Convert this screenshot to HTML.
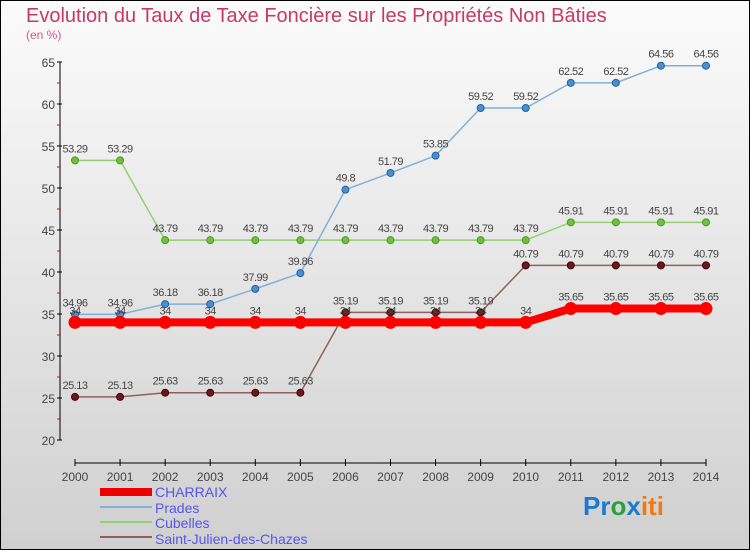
<!DOCTYPE html>
<html><head><meta charset="utf-8"><style>
body{margin:0;width:750px;height:550px;overflow:hidden;font-family:"Liberation Sans",sans-serif}
</style></head><body>
<svg width="750" height="550" xmlns="http://www.w3.org/2000/svg">
<defs><linearGradient id="bg" x1="0" y1="0" x2="0" y2="1"><stop offset="0" stop-color="#fbfbfb"/><stop offset="1" stop-color="#d0d0d0"/></linearGradient></defs>
<rect x="0.5" y="0.5" width="749" height="549" fill="url(#bg)" stroke="#000"/>
<text x="26" y="22" font-size="20" fill="#c8386a">Evolution du Taux de Taxe Foncière sur les Propriétés Non Bâties</text>
<text x="26" y="39" font-size="12" fill="#d0588a">(en %)</text>
<g id="axes"></g>
<g id="series"></g>
<g>
<rect x="100" y="488" width="52" height="8" fill="#e00"/>
<text x="155" y="497" font-size="14" fill="#5555ee">CHARRAIX</text>
<line x1="100" y1="507" x2="152" y2="507" stroke="#80b0d8" stroke-width="2"/>
<text x="155" y="513" font-size="14" fill="#5555ee">Prades</text>
<line x1="100" y1="522" x2="152" y2="522" stroke="#90d070" stroke-width="2"/>
<text x="155" y="528" font-size="14" fill="#5555ee">Cubelles</text>
<line x1="100" y1="537" x2="152" y2="537" stroke="#906060" stroke-width="2"/>
<text x="155" y="544" font-size="14" fill="#5555ee">Saint-Julien-des-Chazes</text>
</g>
<text x="583" y="515" font-size="26" font-weight="bold"><tspan fill="#1a7ad0">Pr</tspan><tspan fill="#2aa040">o</tspan><tspan fill="#1a7ad0">x</tspan><tspan fill="#f07a10">iti</tspan></text>
</svg>
<script>
const years=[2000,2001,2002,2003,2004,2005,2006,2007,2008,2009,2010,2011,2012,2013,2014];
const yTicks=[20,25,30,35,40,45,50,55,60,65];
const charraix=[34,34,34,34,34,34,34,34,34,34,34,35.65,35.65,35.65,35.65];
const prades=[34.96,34.96,36.18,36.18,37.99,39.86,49.8,51.79,53.85,59.52,59.52,62.52,62.52,64.56,64.56];
const cubelles=[53.29,53.29,43.79,43.79,43.79,43.79,43.79,43.79,43.79,43.79,43.79,45.91,45.91,45.91,45.91];
const stjulien=[25.13,25.13,25.63,25.63,25.63,25.63,35.19,35.19,35.19,35.19,40.79,40.79,40.79,40.79,40.79];
const NS="http://www.w3.org/2000/svg";
const X=i=>75+i*(706-75)/(years.length-1);
const Y=v=>440-(v-20)*(440-62)/45;
function mk(p,t,a){const e=document.createElementNS(NS,t);for(const k in a)e.setAttribute(k,a[k]);p.appendChild(e);return e;}
const ax=document.getElementById('axes');
let yl=mk(ax,'line',{x1:60,y1:62,x2:60,y2:440,stroke:'#000'});


yTicks.forEach(v=>{
 mk(ax,'line',{x1:57,y1:Y(v),x2:62,y2:Y(v),stroke:'#000'});
 if(v<65) mk(ax,'line',{x1:57,y1:Y(v+2.5),x2:60,y2:Y(v+2.5),stroke:'#e00'});
 const t=mk(ax,'text',{x:55,y:Y(v)+5,'font-size':12,fill:'#444','text-anchor':'end'});t.textContent=v;
 
 
});
let xl=mk(ax,'line',{x1:75,y1:463,x2:706,y2:463,stroke:'#000'});


years.forEach((y,i)=>{
 mk(ax,'line',{x1:X(i),y1:459,x2:X(i),y2:466,stroke:'#000'});
 const t=mk(ax,'text',{x:X(i),y:481,'font-size':12,fill:'#444','text-anchor':'middle'});t.textContent=y;
 
 
});
const sg=document.getElementById('series');
function series(vals,name,stroke,w,fill,r,ptStroke){
 const g=mk(sg,'g',{});
 
 
 mk(g,'polyline',{points:vals.map((v,i)=>X(i)+','+Y(v)).join(' '),fill:'none',stroke:stroke,'stroke-width':w});
 vals.forEach((v,i)=>{
  const c=mk(g,'circle',{cx:X(i),cy:Y(v),r:r,fill:fill,stroke:ptStroke,'stroke-width':1});
  
  
  const t=mk(g,'text',{x:X(i),y:Y(v)-8,'font-size':11,fill:'#444','text-anchor':'middle','letter-spacing':'-0.5'});t.textContent=v;
 });
}
series(stjulien,'saint-julien','#906060',1.5,'#6a1a1a',3.5,'#400');
series(cubelles,'cubelles','#90d070',1.5,'#70c040',3.5,'#4a9a20');
series(prades,'prades','#80b0d8',1.5,'#4a90d0',3.5,'#2060a0');
series(charraix,'charraix','#f00',8,'#f00',6,'#f00');
</script>
</body></html>
